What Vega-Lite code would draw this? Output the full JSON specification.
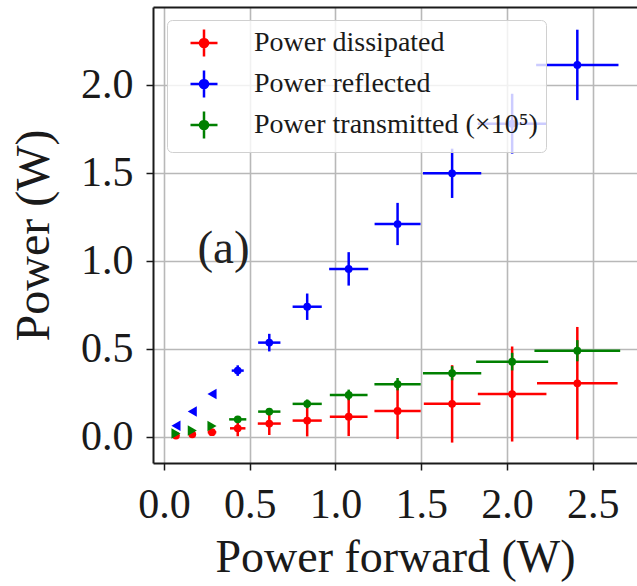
{
  "$schema": "https://vega.github.io/schema/vega-lite/v6.json",
  "autosize": "none",
  "width": 484,
  "height": 456,
  "padding": {"left": 153, "top": 7, "right": 0, "bottom": 123},
  "background": "white",
  "datasets": {
    "pts": [
      {"series": "Power dissipated", "x": 0.07, "y": 0.008, "xerr": 0.01, "yerr": 0.006, "limit": "none"},
      {"series": "Power dissipated", "x": 0.165, "y": 0.015, "xerr": 0.015, "yerr": 0.01, "limit": "none"},
      {"series": "Power dissipated", "x": 0.28, "y": 0.027, "xerr": 0.025, "yerr": 0.018, "limit": "none"},
      {"series": "Power dissipated", "x": 0.43, "y": 0.049, "xerr": 0.045, "yerr": 0.045, "limit": "none"},
      {"series": "Power dissipated", "x": 0.614, "y": 0.076, "xerr": 0.067, "yerr": 0.065, "limit": "none"},
      {"series": "Power dissipated", "x": 0.835, "y": 0.093, "xerr": 0.085, "yerr": 0.09, "limit": "none"},
      {"series": "Power dissipated", "x": 1.077, "y": 0.115, "xerr": 0.11, "yerr": 0.11, "limit": "none"},
      {"series": "Power dissipated", "x": 1.362, "y": 0.148, "xerr": 0.135, "yerr": 0.16, "limit": "none"},
      {"series": "Power dissipated", "x": 1.68, "y": 0.188, "xerr": 0.165, "yerr": 0.22, "limit": "none"},
      {"series": "Power dissipated", "x": 2.03, "y": 0.244, "xerr": 0.2, "yerr": 0.27, "limit": "none"},
      {"series": "Power dissipated", "x": 2.41, "y": 0.305, "xerr": 0.235, "yerr": 0.32, "limit": "none"},
      {"series": "Power reflected", "x": 0.07, "y": 0.063, "xerr": 0, "yerr": 0, "limit": "upper"},
      {"series": "Power reflected", "x": 0.165, "y": 0.144, "xerr": 0, "yerr": 0, "limit": "upper"},
      {"series": "Power reflected", "x": 0.28, "y": 0.244, "xerr": 0, "yerr": 0, "limit": "upper"},
      {"series": "Power reflected", "x": 0.43, "y": 0.377, "xerr": 0.035, "yerr": 0.03, "limit": "none"},
      {"series": "Power reflected", "x": 0.614, "y": 0.536, "xerr": 0.065, "yerr": 0.05, "limit": "none"},
      {"series": "Power reflected", "x": 0.835, "y": 0.74, "xerr": 0.085, "yerr": 0.075, "limit": "none"},
      {"series": "Power reflected", "x": 1.077, "y": 0.955, "xerr": 0.114, "yerr": 0.095, "limit": "none"},
      {"series": "Power reflected", "x": 1.362, "y": 1.21, "xerr": 0.134, "yerr": 0.12, "limit": "none"},
      {"series": "Power reflected", "x": 1.68, "y": 1.498, "xerr": 0.17, "yerr": 0.14, "limit": "none"},
      {"series": "Power reflected", "x": 2.03, "y": 1.78, "xerr": 0.2, "yerr": 0.17, "limit": "none"},
      {"series": "Power reflected", "x": 2.41, "y": 2.114, "xerr": 0.24, "yerr": 0.2, "limit": "none"},
      {"series": "Power transmitted (×10⁵)", "x": 0.07, "y": 0.02, "xerr": 0, "yerr": 0, "limit": "lower"},
      {"series": "Power transmitted (×10⁵)", "x": 0.165, "y": 0.036, "xerr": 0, "yerr": 0, "limit": "lower"},
      {"series": "Power transmitted (×10⁵)", "x": 0.28, "y": 0.062, "xerr": 0, "yerr": 0, "limit": "lower"},
      {"series": "Power transmitted (×10⁵)", "x": 0.43, "y": 0.1, "xerr": 0.05, "yerr": 0.015, "limit": "none"},
      {"series": "Power transmitted (×10⁵)", "x": 0.614, "y": 0.144, "xerr": 0.065, "yerr": 0.02, "limit": "none"},
      {"series": "Power transmitted (×10⁵)", "x": 0.835, "y": 0.188, "xerr": 0.085, "yerr": 0.025, "limit": "none"},
      {"series": "Power transmitted (×10⁵)", "x": 1.077, "y": 0.239, "xerr": 0.11, "yerr": 0.03, "limit": "none"},
      {"series": "Power transmitted (×10⁵)", "x": 1.362, "y": 0.3, "xerr": 0.135, "yerr": 0.035, "limit": "none"},
      {"series": "Power transmitted (×10⁵)", "x": 1.68, "y": 0.362, "xerr": 0.17, "yerr": 0.04, "limit": "none"},
      {"series": "Power transmitted (×10⁵)", "x": 2.03, "y": 0.428, "xerr": 0.21, "yerr": 0.05, "limit": "none"},
      {"series": "Power transmitted (×10⁵)", "x": 2.41, "y": 0.49, "xerr": 0.25, "yerr": 0.06, "limit": "none"}
    ],
    "ann": [{"label": "(a)", "x": 0.347, "y": 1.07}]
  },
  "resolve": {"axis": {"x": "independent", "y": "independent"}},
  "layer": [
    {
      "data": {"name": "pts"},
      "transform": [{"filter": "datum.limit == 'none'"}],
      "mark": {"type": "errorbar", "thickness": 2.5, "clip": true},
      "encoding": {
        "x": {"field": "x", "type": "quantitative",
              "scale": {"domain": [-0.064, 2.758], "nice": false, "zero": false},
              "axis": {"values": [0, 0.5, 1, 1.5, 2, 2.5], "format": ".1f", "title": "Power forward (W)", "grid": true}},
        "xError": {"field": "xerr"},
        "y": {"field": "y", "type": "quantitative",
              "scale": {"domain": [-0.148, 2.443], "nice": false, "zero": false},
              "axis": {"values": [0, 0.5, 1, 1.5, 2], "format": ".1f", "title": "Power (W)", "grid": true}},
        "color": {"field": "series", "type": "nominal",
                  "scale": {"domain": ["Power dissipated", "Power reflected", "Power transmitted (×10⁵)"], "range": ["#ff0000", "#0000ff", "#008000"]},
                  "legend": {"title": null, "orient": "none", "legendX": 14, "legendY": 13, "labelLimit": 500,
                             "symbolType": "M-1,0H1M0,-1V1M0.3,0A0.3,0.3,0,1,1,-0.3,0A0.3,0.3,0,1,1,0.3,0Z",
                             "encode": {"symbols": {"update": {"stroke": {"scale": "color", "field": "value"}, "strokeWidth": {"value": 2.5}, "fill": {"scale": "color", "field": "value"}, "opacity": {"value": 1}}}}}}
      }
    },
    {
      "data": {"name": "pts"},
      "transform": [{"filter": "datum.limit == 'none'"}],
      "mark": {"type": "errorbar", "thickness": 2.5, "clip": true},
      "encoding": {
        "x": {"field": "x", "type": "quantitative", "axis": null},
        "y": {"field": "y", "type": "quantitative", "axis": null},
        "yError": {"field": "yerr"},
        "color": {"field": "series", "type": "nominal",
                  "legend": {"title": null, "orient": "none", "legendX": 14, "legendY": 13, "labelLimit": 500,
                             "symbolType": "M-1,0H1M0,-1V1M0.3,0A0.3,0.3,0,1,1,-0.3,0A0.3,0.3,0,1,1,0.3,0Z",
                             "encode": {"symbols": {"update": {"stroke": {"scale": "color", "field": "value"}, "strokeWidth": {"value": 2.5}, "fill": {"scale": "color", "field": "value"}, "opacity": {"value": 1}}}}}}
      }
    },
    {
      "data": {"name": "pts"},
      "transform": [{"filter": "datum.limit == 'none'"}],
      "mark": {"type": "point", "filled": true, "shape": "circle", "size": 60, "opacity": 1, "clip": true},
      "encoding": {
        "x": {"field": "x", "type": "quantitative", "axis": null},
        "y": {"field": "y", "type": "quantitative", "axis": null},
        "color": {"field": "series", "type": "nominal",
                  "legend": {"title": null, "orient": "none", "legendX": 14, "legendY": 13, "labelLimit": 500,
                             "symbolType": "M-1,0H1M0,-1V1M0.3,0A0.3,0.3,0,1,1,-0.3,0A0.3,0.3,0,1,1,0.3,0Z",
                             "encode": {"symbols": {"update": {"stroke": {"scale": "color", "field": "value"}, "strokeWidth": {"value": 2.5}, "fill": {"scale": "color", "field": "value"}, "opacity": {"value": 1}}}}}}
      }
    },
    {
      "data": {"name": "pts"},
      "transform": [{"filter": "datum.limit != 'none'"}],
      "mark": {"type": "point", "filled": true, "size": 110, "opacity": 1, "clip": true},
      "encoding": {
        "x": {"field": "x", "type": "quantitative", "axis": null},
        "y": {"field": "y", "type": "quantitative", "axis": null},
        "shape": {"field": "limit", "type": "nominal", "legend": null,
                  "scale": {"domain": ["upper", "lower"], "range": ["triangle-left", "triangle-right"]}},
        "color": {"field": "series", "type": "nominal",
                  "legend": {"title": null, "orient": "none", "legendX": 14, "legendY": 13, "labelLimit": 500,
                             "symbolType": "M-1,0H1M0,-1V1M0.3,0A0.3,0.3,0,1,1,-0.3,0A0.3,0.3,0,1,1,0.3,0Z",
                             "encode": {"symbols": {"update": {"stroke": {"scale": "color", "field": "value"}, "strokeWidth": {"value": 2.5}, "fill": {"scale": "color", "field": "value"}, "opacity": {"value": 1}}}}}}
      }
    },
    {
      "data": {"name": "ann"},
      "mark": {"type": "text", "fontSize": 47, "font": "Liberation Serif", "color": "#222222", "align": "center", "baseline": "middle"},
      "encoding": {
        "x": {"field": "x", "type": "quantitative",
              "axis": {"orient": "top", "labels": false, "ticks": false, "grid": false, "title": null, "domain": true}},
        "y": {"field": "y", "type": "quantitative", "axis": null},
        "text": {"field": "label"}
      }
    }
  ],
  "config": {
    "font": "Liberation Serif",
    "view": {"stroke": null},
    "axis": {
      "labelFont": "Liberation Serif", "titleFont": "Liberation Serif",
      "labelFontSize": 42, "titleFontSize": 46, "titleFontWeight": "normal",
      "labelColor": "#1a1a1a", "titleColor": "#1a1a1a",
      "domainColor": "#1a1a1a", "domainWidth": 2,
      "tickColor": "#1a1a1a", "tickWidth": 1.5, "tickSize": 7,
      "gridColor": "#b8b8b8", "gridWidth": 1.6,
      "labelPadding": 14, "titlePadding": 10
    },
    "axisY": {"labelPadding": 13, "titlePadding": 22, "titleFontSize": 48},
    "legend": {
      "labelFont": "Liberation Serif", "labelFontSize": 28, "labelColor": "#1a1a1a",
      "symbolSize": 729, "symbolStrokeWidth": 2.5, "symbolOffset": 14,
      "labelOffset": 35, "rowPadding": 3,
      "padding": 8, "fillColor": "rgba(255,255,255,0.8)", "strokeColor": "#d0d0d0", "cornerRadius": 5
    }
  }
}
